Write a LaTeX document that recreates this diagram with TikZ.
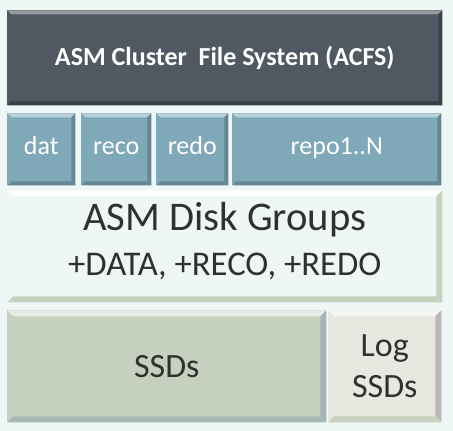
\documentclass[tikz,border=0pt]{standalone}
\usepackage{fontspec}
\setmainfont{Carlito}
\definecolor{bgcol}{HTML}{EFF7F6}
\definecolor{slate}{HTML}{505862}
\definecolor{steel}{HTML}{7FA9B9}
\definecolor{sage}{HTML}{C6D0BE}
\definecolor{sageside}{HTML}{A3B5B5}
\definecolor{sagefoot}{HTML}{A8B8B4}
\definecolor{stone}{HTML}{E8E8E0}
\definecolor{stoneside}{HTML}{C0B5B8}
\definecolor{ink}{HTML}{303030}
\begin{document}
\begin{tikzpicture}[x=0.75pt,y=-0.75pt]
\tikzset{
  sz/.style 2 args = {minimum width=#1*0.75pt, minimum height=#2*0.75pt},
  bevel/.style n args = {5}{rectangle, anchor=north west, inner sep=0pt, fill=#1,
    path picture={
      \fill[#2] (path picture bounding box.north west) -- (path picture bounding box.north east)
        -- ([xshift=-#5,yshift=-#5]path picture bounding box.north east)
        -- ([xshift=#5,yshift=-#5]path picture bounding box.north west) -- cycle;
      \fill[#3] (path picture bounding box.north east) -- (path picture bounding box.south east)
        -- ([xshift=-#5,yshift=#5]path picture bounding box.south east)
        -- ([xshift=-#5,yshift=-#5]path picture bounding box.north east) -- cycle;
      \fill[#4] (path picture bounding box.south west) -- (path picture bounding box.south east)
        -- ([xshift=-#5,yshift=#5]path picture bounding box.south east)
        -- ([xshift=#5,yshift=#5]path picture bounding box.south west) -- cycle;
    }},
  toprow/.style = {bevel={slate}{slate!60!white}{slate!75!black}{slate!70!black}{3pt}, text=white},
  share/.style = {bevel={steel}{steel!55!white}{steel!80!black}{steel!80!black}{3pt}, text=white,
    text height=13pt, text depth=5pt, font=\fontsize{19.5}{22}\selectfont}
}
\fill[bgcol] (0,0) rectangle (453,431);
\useasboundingbox (0,0) rectangle (453,431);
% file system layer
\node[toprow, sz={435}{95}, font=\bfseries\fontsize{19.5}{22}\selectfont] (acfs) at (7,10) {ASM Cluster\ \ File System (ACFS)};
\node[share, sz={68}{72}] (dat) at (7,113) {dat};
\node[share, sz={70}{72}] (reco) at (81,113) {reco};
\node[share, sz={72}{72}] (redo) at (156,113) {redo};
\node[share, sz={209}{72}] (repo) at (232,113) {repo1..N};
% disk groups
\node[bevel={bgcol}{white}{sage}{sage}{4.5pt}, sz={435}{112}, text=ink, align=center,
  font=\fontsize{26}{33.5}\selectfont, text depth=11pt] (asmdg) at (7,190)
  {{\fontsize{30.5}{33.5}\selectfont ASM Disk Groups}\\+DATA, +RECO, +REDO};
% storage
\node[bevel={sage}{sage!40!white}{sageside}{sagefoot}{4.5pt}, sz={319}{112}, text=ink, font=\fontsize{25.5}{30}\selectfont] (ssd) at (7,310) {SSDs};
\node[bevel={stone}{white!60!stone}{stoneside}{sage}{4.5pt}, sz={113}{112}, text=ink, align=center, font=\fontsize{25.5}{31}\selectfont] (logssd) at (328,310) {Log\\SSDs};
\end{tikzpicture}
\end{document}
